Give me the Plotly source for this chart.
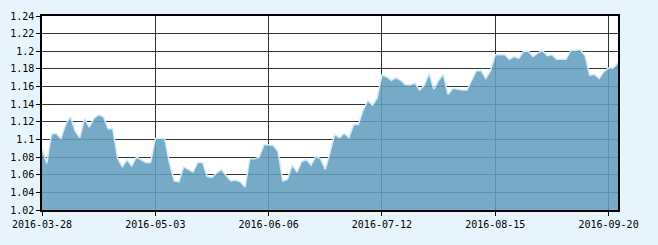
import plotly.graph_objects as go
import pandas as pd

# Trading days 2016-03-28 .. 2016-09-22 (China A-share calendar)
holidays = ["2016-04-04", "2016-05-02", "2016-06-09", "2016-06-10",
            "2016-09-15", "2016-09-16"]
dates = [d.strftime("%Y-%m-%d") for d in pd.bdate_range("2016-03-28", "2016-09-22")
         if d.strftime("%Y-%m-%d") not in holidays]

values = [
    1.090, 1.073, 1.106, 1.107, 1.101, 1.117, 1.126, 1.110, 1.102, 1.124,
    1.114, 1.124, 1.128, 1.126, 1.112, 1.112, 1.079, 1.069, 1.077, 1.070,
    1.080, 1.077, 1.074, 1.074, 1.101, 1.101, 1.101, 1.073, 1.053, 1.052,
    1.069, 1.066, 1.063, 1.074, 1.074, 1.058, 1.057, 1.062, 1.066, 1.059,
    1.053, 1.054, 1.052, 1.046, 1.078, 1.078, 1.080, 1.094, 1.094, 1.093,
    1.086, 1.053, 1.055, 1.071, 1.063, 1.075, 1.077, 1.071, 1.081, 1.078,
    1.066, 1.085, 1.106, 1.102, 1.107, 1.102, 1.117, 1.117, 1.133, 1.144,
    1.139, 1.147, 1.173, 1.171, 1.167, 1.170, 1.167, 1.162, 1.162, 1.164,
    1.156, 1.162, 1.175, 1.157, 1.167, 1.174, 1.151, 1.158, 1.157, 1.156,
    1.156, 1.168, 1.178, 1.178, 1.169, 1.178, 1.196, 1.196, 1.196, 1.191,
    1.194, 1.192, 1.200, 1.200, 1.194, 1.198, 1.201, 1.195, 1.196, 1.191,
    1.191, 1.191, 1.201, 1.201, 1.202, 1.195, 1.173, 1.174, 1.169, 1.177,
    1.181, 1.181, 1.187,
]

x_ticks = ["2016-03-28", "2016-05-03", "2016-06-06", "2016-07-12",
           "2016-08-15", "2016-09-20"]
y_ticks = [1.02, 1.04, 1.06, 1.08, 1.10, 1.12, 1.14, 1.16, 1.18, 1.20, 1.22, 1.24]
y_labels = ["1.02", "1.04", "1.06", "1.08", "1.1", "1.12", "1.14", "1.16",
            "1.18", "1.2", "1.22", "1.24"]

fig = go.Figure()
fig.add_trace(go.Scatter(
    x=dates, y=values, mode="lines",
    line=dict(color="#d4ebf8", width=1.5),
    fill="tozeroy", fillcolor="rgba(100,158,191,0.88)",
    hoverinfo="skip",
))

font = dict(family="DejaVu Sans Mono", size=10, color="#000000")
fig.update_layout(
    width=658, height=245,
    margin=dict(l=39, r=40, t=10, b=35),
    paper_bgcolor="#e8f4fc", plot_bgcolor="#ffffff",
    showlegend=False,
    font=font,
)
fig.update_xaxes(
    type="category", range=[0, len(dates) - 1],
    tickmode="array", tickvals=x_ticks, ticktext=x_ticks,
    showgrid=True, gridcolor="#333333", gridwidth=1,
    showline=True, linecolor="#000000", linewidth=1.5, mirror=True,
    ticks="outside", ticklen=4, tickcolor="#000000",
    tickfont=font, tickangle=0,
)
fig.update_yaxes(
    range=[1.02, 1.24],
    tickmode="array", tickvals=y_ticks, ticktext=y_labels,
    showgrid=True, gridcolor="#333333", gridwidth=1,
    showline=True, linecolor="#000000", linewidth=1.5, mirror=True,
    ticks="outside", ticklen=4, tickcolor="#000000",
    tickfont=font, zeroline=False,
)

fig.write_html("out.html")
